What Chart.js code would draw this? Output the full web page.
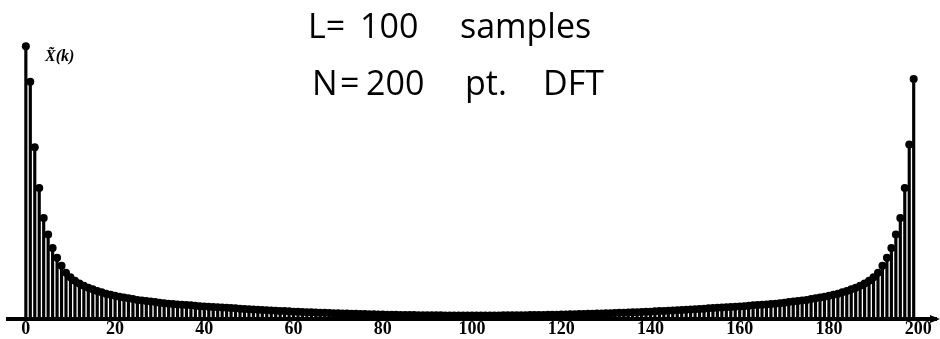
<!DOCTYPE html>
<html>
<head>
<meta charset="utf-8">
<script src="https://cdn.jsdelivr.net/npm/chart.js@4/dist/chart.umd.min.js"></script>
<style>
  html, body { margin: 0; padding: 0; background: #fff; }
  #wrap { width: 940px; height: 339px; }
</style>
</head>
<body>
<div id="wrap"><canvas id="dft"></canvas></div>
<script>
// DFT index k = 0 .. 199
var bins = [];
for (var i = 0; i < 200; i++) bins.push(i);

// |X(k)| (k=0 scaled to 100)
var magnitude = [
  100, 87, 63, 48, 37, 31, 26, 22.5, 19.5, 17,
  15.3, 14, 13, 12.2, 11.5, 10.9, 10.3, 9.8, 9.3, 8.9,
  8.5, 8.2, 7.9, 7.6, 7.3, 7.0, 6.8, 6.6, 6.4, 6.2,
  6.0, 5.8, 5.6, 5.5, 5.3, 5.2, 5.1, 5.0, 4.9, 4.7,
  4.6, 4.5, 4.4, 4.3, 4.2, 4.1, 4.0, 3.9, 3.8, 3.7,
  3.6, 3.5, 3.4, 3.3, 3.2, 3.1, 3.0, 2.95, 2.9, 2.8,
  2.7, 2.65, 2.6, 2.5, 2.45, 2.4, 2.3, 2.25, 2.2, 2.15,
  2.1, 2.05, 2.0, 1.95, 1.9, 1.85, 1.8, 1.76, 1.72, 1.68,
  1.64, 1.6, 1.57, 1.54, 1.51, 1.48, 1.45, 1.43, 1.41, 1.39,
  1.37, 1.35, 1.34, 1.33, 1.32, 1.31, 1.3, 1.3, 1.29, 1.29,
  1.29, 1.29, 1.29, 1.3, 1.3, 1.31, 1.32, 1.33, 1.34, 1.35,
  1.37, 1.39, 1.41, 1.43, 1.45, 1.48, 1.51, 1.54, 1.57, 1.6,
  1.64, 1.68, 1.72, 1.76, 1.8, 1.85, 1.9, 1.95, 2.0, 2.05,
  2.1, 2.15, 2.2, 2.25, 2.3, 2.4, 2.45, 2.5, 2.6, 2.65,
  2.7, 2.8, 2.9, 2.95, 3.0, 3.1, 3.2, 3.3, 3.4, 3.5,
  3.6, 3.7, 3.8, 3.9, 4.0, 4.1, 4.2, 4.3, 4.4, 4.5,
  4.6, 4.7, 4.9, 5.0, 5.1, 5.2, 5.3, 5.5, 5.6, 5.8,
  6.0, 6.2, 6.4, 6.6, 6.8, 7.0, 7.3, 7.6, 7.9, 8.2,
  8.5, 8.9, 9.3, 9.8, 10.3, 10.9, 11.5, 12.2, 13, 14,
  15.3, 17, 19.5, 22.5, 26, 31, 37, 48, 64, 88
];

var xTicks = [0, 20, 40, 60, 80, 100, 120, 140, 160, 180, 200];

var points = bins.map(function(k, i) { return {x: k, y: magnitude[i]}; });

// handwritten notes on the page
var notes = [
  {text: 'L=', x: 308, y: 38},
  {text: '100', x: 360, y: 38},
  {text: 'samples', x: 460, y: 38},
  {text: 'N', x: 312, y: 95},
  {text: '=', x: 340, y: 95},
  {text: '200', x: 366, y: 95},
  {text: 'pt.', x: 465, y: 95},
  {text: 'DFT', x: 543, y: 95}
];

var notesPlugin = {
  id: 'notes',
  afterDraw: function(chart) {
    var ctx = chart.ctx;
    ctx.save();
    ctx.fillStyle = '#000';
    ctx.textBaseline = 'alphabetic';
    ctx.textAlign = 'left';
    ctx.font = '34px "Open Sans", "Noto Sans", sans-serif';
    notes.forEach(function(n) { ctx.fillText(n.text, n.x, n.y); });

    ctx.font = 'italic bold 16px "Liberation Serif", serif';
    ctx.fillText('X\u0303(k)', 45, 61);

    // arrow head on the k axis
    var a = chart.chartArea;
    ctx.beginPath();
    ctx.moveTo(a.right + 4, a.bottom);
    ctx.lineTo(a.right - 6, a.bottom - 4);
    ctx.lineTo(a.right - 6, a.bottom + 4);
    ctx.closePath();
    ctx.fill();
    ctx.restore();
  }
};

var chr = document.getElementById('dft').getContext('2d');
var dftChart = new Chart(chr, {
  type: 'bar',
  data: {
    datasets: [{
      type: 'line',
      data: points,
      showLine: false,
      pointRadius: 4,
      pointBackgroundColor: '#000',
      pointBorderWidth: 0,
      order: 0
    }, {
      type: 'bar',
      data: points,
      backgroundColor: '#000',
      barThickness: 2.5,
      order: 1
    }]
  },
  options: {
    responsive: true,
    maintainAspectRatio: false,
    animation: false,
    layout: { padding: { left: 8, right: 4, top: 0, bottom: 0 } },
    plugins: {
      legend: { display: false },
      tooltip: { enabled: false }
    },
    scales: {
      x: {
        type: 'linear',
        min: -4,
        max: 204,
        offset: false,
        grid: { display: false, drawTicks: false },
        border: { display: true, color: '#000', width: 4 },
        afterBuildTicks: function(axis) {
          axis.ticks = xTicks.map(function(v) { return {value: v}; });
        },
        ticks: {
          autoSkip: false,
          maxRotation: 0,
          padding: 1,
          color: '#000',
          font: { family: '"Liberation Serif", serif', size: 18, weight: 'bold', lineHeight: 1 }
        }
      },
      y: {
        display: false,
        min: 0,
        max: 115.5
      }
    }
  },
  plugins: [notesPlugin]
});
</script>
</body>
</html>
